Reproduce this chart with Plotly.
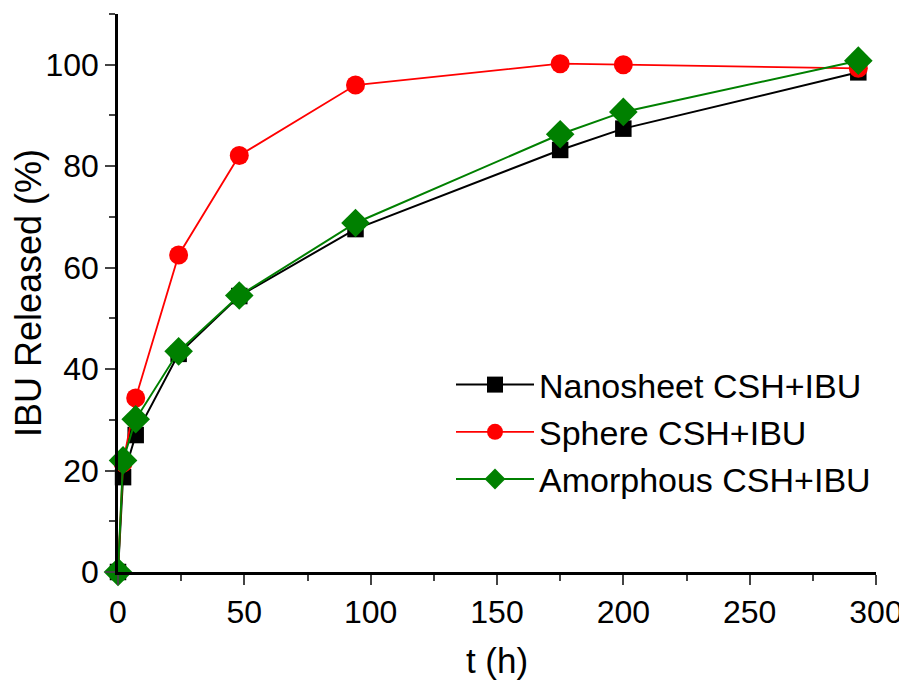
import plotly.graph_objects as go

t_nano = [0, 2, 7, 24, 48, 94, 175, 200, 293]
y_nano = [0, 18.7, 27.0, 43.0, 54.4, 67.6, 83.2, 87.4, 98.5]

t_sphere = [0, 2, 7, 24, 48, 94, 175, 200, 293]
y_sphere = [0, 21.5, 34.3, 62.5, 82.1, 96.0, 100.2, 100.0, 99.3]

t_amor = [0, 2, 7, 24, 48, 94, 175, 200, 293]
y_amor = [0, 22.0, 30.1, 43.5, 54.5, 68.8, 86.3, 90.7, 100.8]

names = ["Nanosheet CSH+IBU", "Sphere CSH+IBU", "Amorphous CSH+IBU"]
x_ticks = [0, 50, 100, 150, 200, 250, 300]
y_ticks = [0, 20, 40, 60, 80, 100]

FONT = "Liberation Sans, Arial, sans-serif"

fig = go.Figure()
fig.add_trace(go.Scatter(x=t_nano, y=y_nano, name=names[0], mode="lines+markers",
                         line=dict(color="black", width=2),
                         marker=dict(symbol="square", size=16.5, color="black"),
                         cliponaxis=False))
fig.add_trace(go.Scatter(x=t_sphere, y=y_sphere, name=names[1], mode="lines+markers",
                         line=dict(color="#ff0000", width=1.8),
                         marker=dict(symbol="circle", size=19, color="#ff0000"),
                         cliponaxis=False))
fig.add_trace(go.Scatter(x=t_amor, y=y_amor, name=names[2], mode="lines+markers",
                         line=dict(color="#008000", width=2),
                         marker=dict(symbol="diamond", size=22, color="#008000"),
                         cliponaxis=False))

fig.update_layout(
    width=899, height=672,
    margin=dict(l=110, r=31, t=6, b=108, autoexpand=False),
    paper_bgcolor="white", plot_bgcolor="white",
    font=dict(family=FONT, color="black", size=32),
    showlegend=True,
    legend=dict(x=333 / 758, y=(564 - 424) / 558, xanchor="left", yanchor="middle",
                font=dict(size=34, family=FONT), bgcolor="rgba(0,0,0,0)",
                itemwidth=78, tracegroupgap=0),
    xaxis=dict(range=[0, 300], tickvals=x_ticks,
               ticks="outside", ticklen=10, tickwidth=2, showline=True,
               linecolor="black", linewidth=2.5, showgrid=False, zeroline=False,
               tickfont=dict(size=32),
               minor=dict(dtick=25, tick0=0, ticks="outside", ticklen=6, tickwidth=2, showgrid=False),
               title=dict(text="t (h)", font=dict(size=35), standoff=22)),
    yaxis=dict(range=[0, 110], tickvals=y_ticks,
               ticks="outside", ticklen=10, tickwidth=2, showline=True,
               linecolor="black", linewidth=2.5, showgrid=False, zeroline=False,
               tickfont=dict(size=32),
               minor=dict(dtick=10, tick0=0, ticks="outside", ticklen=6, tickwidth=2, showgrid=False),
               title=dict(text="IBU Released (%)", font=dict(size=36), standoff=14)),
)

fig.write_html("out.html")
